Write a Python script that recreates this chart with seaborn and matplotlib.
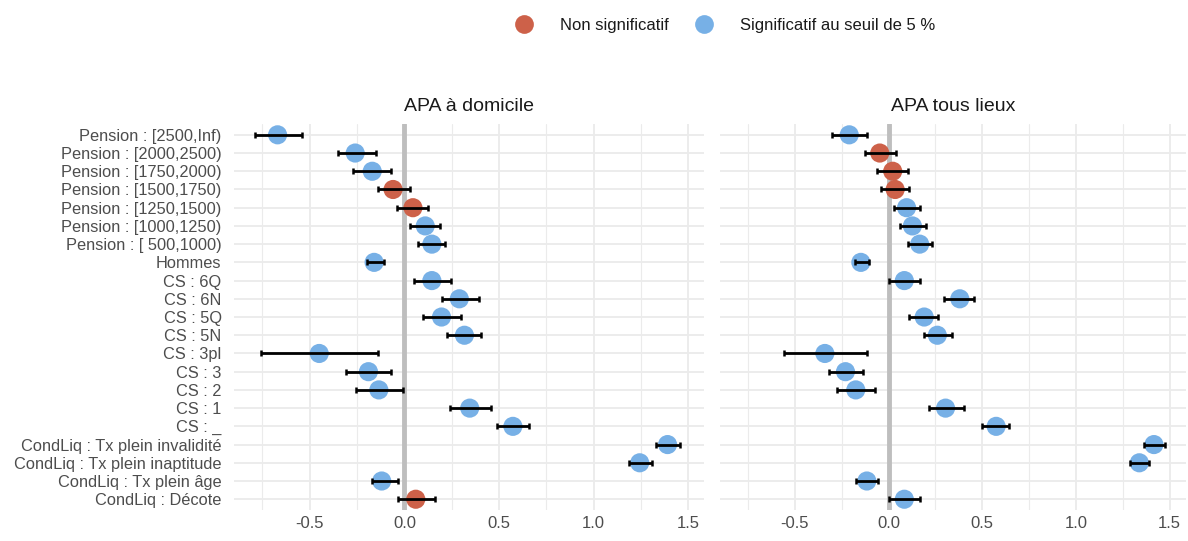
import pandas as pd
import matplotlib.pyplot as plt
import seaborn as sns
from matplotlib.lines import Line2D
from matplotlib.ticker import MultipleLocator

# Terms, top to bottom
terms = [
    "Pension : [2500,Inf)", "Pension : [2000,2500)", "Pension : [1750,2000)",
    "Pension : [1500,1750)", "Pension : [1250,1500)", "Pension : [1000,1250)",
    "Pension : [ 500,1000)", "Hommes", "CS : 6Q", "CS : 6N", "CS : 5Q", "CS : 5N",
    "CS : 3pl", "CS : 3", "CS : 2", "CS : 1", "CS : _",
    "CondLiq : Tx plein invalidité", "CondLiq : Tx plein inaptitude",
    "CondLiq : Tx plein âge", "CondLiq : Décote",
]

# APA à domicile
dom_est = [-0.67, -0.26, -0.17, -0.06, 0.045, 0.11, 0.145, -0.16, 0.145, 0.29, 0.196,
           0.317, -0.45, -0.19, -0.135, 0.345, 0.573, 1.39, 1.243, -0.12, 0.06]
dom_low = [-0.79, -0.35, -0.27, -0.14, -0.04, 0.03, 0.07, -0.20, 0.05, 0.196, 0.10,
           0.227, -0.755, -0.31, -0.255, 0.24, 0.49, 1.327, 1.186, -0.17, -0.035]
dom_high = [-0.54, -0.15, -0.07, 0.03, 0.125, 0.19, 0.215, -0.11, 0.245, 0.395, 0.30,
            0.405, -0.14, -0.07, -0.005, 0.455, 0.66, 1.458, 1.307, -0.035, 0.16]
dom_sig = [1, 1, 1, 0, 0, 1, 1, 1, 1, 1, 1, 1, 1, 1, 1, 1, 1, 1, 1, 1, 0]

# APA tous lieux
all_est = [-0.21, -0.047, 0.022, 0.035, 0.096, 0.127, 0.166, -0.148, 0.084, 0.38, 0.19,
           0.26, -0.34, -0.23, -0.175, 0.304, 0.574, 1.416, 1.338, -0.116, 0.084]
all_low = [-0.30, -0.126, -0.063, -0.042, 0.027, 0.06, 0.105, -0.18, 0.0, 0.295, 0.107,
           0.188, -0.56, -0.32, -0.275, 0.217, 0.5, 1.363, 1.29, -0.173, 0.003]
all_high = [-0.115, 0.042, 0.105, 0.11, 0.17, 0.2, 0.23, -0.105, 0.165, 0.455, 0.266,
            0.337, -0.115, -0.137, -0.07, 0.4, 0.643, 1.477, 1.39, -0.058, 0.165]
all_sig = [1, 0, 0, 0, 1, 1, 1, 1, 1, 1, 1, 1, 1, 1, 1, 1, 1, 1, 1, 1, 1]

models = ["APA à domicile", "APA tous lieux"]
sig_labels = ["Non significatif", "Significatif au seuil de 5 %"]
palette = {"Non significatif": "#CD6149", "Significatif au seuil de 5 %": "#77B0E6"}

frames = []
for name, est, low, high, sig in [(models[0], dom_est, dom_low, dom_high, dom_sig),
                                  (models[1], all_est, all_low, all_high, all_sig)]:
    frames.append(pd.DataFrame({
        "model": name, "term": terms, "estimate": est, "low": low, "high": high,
        "signif": [sig_labels[s] for s in sig],
    }))
df = pd.concat(frames, ignore_index=True)

sns.set_style("white")
plt.rcParams["font.family"] = ["Liberation Sans", "DejaVu Sans"]
plt.rcParams["axes.unicode_minus"] = False

fig = plt.figure(figsize=(11.88, 5.41), dpi=100)
ax1 = fig.add_axes([0.197, 0.057, 0.396, 0.714])
ax2 = fig.add_axes([0.606, 0.057, 0.392, 0.714])

n = len(terms)
for ax, name in zip([ax1, ax2], models):
    sub = df[df["model"] == name]
    ax.axvline(0, color="#BEBEBE", lw=3.5, zorder=1)
    sns.scatterplot(data=sub, x="estimate", y="term", hue="signif", hue_order=sig_labels,
                    palette=palette, s=190, linewidth=0, legend=False, ax=ax, zorder=3)
    ax.errorbar(sub["estimate"], sub["term"],
                xerr=[sub["estimate"] - sub["low"], sub["high"] - sub["estimate"]],
                fmt="none", ecolor="black", elinewidth=2.0, capsize=2.2, capthick=1.8,
                zorder=4)
    ax.set_xlim(-0.9, 1.585)
    ax.set_ylim(n - 1 + 0.6, -0.6)
    ax.xaxis.set_major_locator(MultipleLocator(0.5))
    ax.xaxis.set_minor_locator(MultipleLocator(0.25))
    ax.grid(which="major", color="#EBEBEB", lw=1.3, zorder=0)
    ax.grid(which="minor", axis="x", color="#EBEBEB", lw=0.8, zorder=0)
    ax.set_axisbelow(True)
    for sp in ax.spines.values():
        sp.set_visible(False)
    ax.set_xlabel("")
    ax.set_ylabel("")
    ax.set_title(name, fontsize=14, color="#1A1A1A", pad=9)
    ax.tick_params(axis="x", which="both", length=0, labelsize=12, colors="#4D4D4D", pad=4)
    ax.tick_params(axis="y", length=0, labelsize=11.8, colors="#4D4D4D", pad=9)

ax2.tick_params(axis="y", labelleft=False)

handles = [Line2D([], [], marker="o", linestyle="none", markersize=13.5,
                  markerfacecolor=palette[l], markeredgewidth=0) for l in sig_labels]
fig.legend(handles, sig_labels, loc="center", bbox_to_anchor=(0.607, 0.953), ncol=2,
           frameon=False, fontsize=12, handlelength=2, handletextpad=1.15,
           columnspacing=1.1, labelcolor="#1A1A1A")

fig.savefig("out.png", dpi=100)
